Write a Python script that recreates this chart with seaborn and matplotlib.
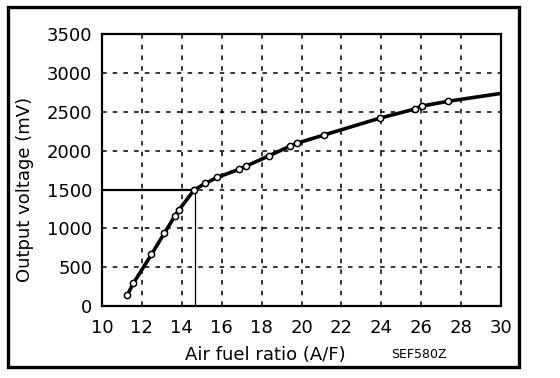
import numpy as np
import pandas as pd
import matplotlib
matplotlib.use("Agg")
import matplotlib.pyplot as plt
from matplotlib.patches import Rectangle
import seaborn as sns

# Measured points (open circles)
afr = [11.27, 11.57, 12.48, 13.12, 13.65, 13.85, 14.62, 15.17, 15.77,
       16.87, 17.23, 18.37, 19.43, 19.77, 21.12, 23.92, 25.67, 26.03, 27.32]
voltage = [141, 292, 665, 935, 1158, 1235, 1495, 1578, 1656,
           1760, 1802, 1934, 2059, 2096, 2201, 2418, 2535, 2574, 2634]

# Curve continues past the last marker to the right edge
curve_end_afr = [30.0]
curve_end_v = [2737]

# Stoichiometric reference
stoich_afr = 14.65
stoich_v = 1500

x_ticks = list(range(10, 31, 2))
y_ticks = list(range(0, 3501, 500))

sns.set_style("white")
plt.rcParams['font.family'] = ['DejaVu Sans']
plt.rcParams['text.color'] = 'black'
plt.rcParams['axes.labelcolor'] = 'black'

fig = plt.figure(figsize=(5.6, 3.78), dpi=100)
ax = fig.add_axes([0.182, 0.19, 0.713, 0.72])

pts = pd.DataFrame({'afr': afr, 'v': voltage})
curve = pd.DataFrame({'afr': afr + curve_end_afr, 'v': voltage + curve_end_v})

# reference lines
ax.plot([10, stoich_afr], [stoich_v, stoich_v], color='black', lw=1.6, zorder=2)
ax.plot([stoich_afr, stoich_afr], [0, stoich_v], color='black', lw=0.9, zorder=2)

sns.lineplot(data=curve, x='afr', y='v', ax=ax, color='black', lw=2.6,
             sort=True, estimator=None, zorder=3)
sns.scatterplot(data=pts, x='afr', y='v', ax=ax, s=20, facecolor='white',
                edgecolor='black', linewidth=1.1, zorder=4)

ax.set_xlim(10, 30)
ax.set_ylim(0, 3500)
ax.set_xticks(x_ticks)
ax.set_yticks(y_ticks)
ax.set_xticks(range(10, 31), minor=True)
ax.set_yticks(range(0, 3501, 100), minor=True)
ax.tick_params(axis='both', which='major', direction='in', length=4, width=1.2,
               labelsize=13, color='black', labelcolor='black')
ax.tick_params(axis='both', which='minor', direction='in', length=3, width=1.2,
               color='black')
ax.tick_params(axis='x', pad=9)
ax.tick_params(axis='y', pad=7)
ax.grid(True, which='major', color='black', lw=1.1, linestyle=(0, (3, 4)))
for s in ax.spines.values():
    s.set_color('black')
    s.set_linewidth(1.6)

ax.set_xlabel('Air fuel ratio (A/F)', fontsize=13)
ax.set_ylabel('Output voltage (mV)', fontsize=13)
ax.xaxis.set_label_coords(0.41, -0.148)
ax.yaxis.set_label_coords(-0.17, 0.43)
fig.text(0.748, 0.061, 'SEF580Z', fontsize=9, ha='center', va='center')

fig.patches.append(Rectangle((0.0143, 0.029), 0.9125, 0.952, transform=fig.transFigure,
                             fill=False, edgecolor='black', lw=2.4))

fig.savefig('out.png', dpi=100)
